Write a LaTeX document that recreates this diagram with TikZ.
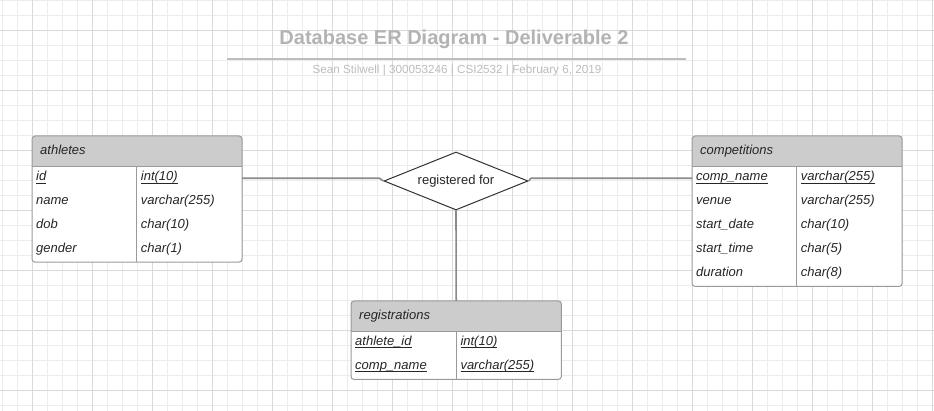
\documentclass[tikz,border=0pt]{standalone}
\usepackage{fontspec}
\setmainfont{Liberation Sans}
\usetikzlibrary{shapes.geometric,positioning,calc}

\definecolor{gridminor}{HTML}{ECECEC}
\definecolor{gridmajor}{HTML}{DADADA}
\definecolor{headfill}{HTML}{CCCCCC}
\definecolor{tblgray}{HTML}{9A9A9A}
\definecolor{titlegray}{HTML}{B3B3B3}
\definecolor{subgray}{HTML}{BDBDBD}
\definecolor{conngray}{HTML}{8A8A8A}
\definecolor{txtdark}{HTML}{262626}

% underlined key with a fixed rule depth
\newcommand\ukey[1]{\setbox0\hbox{#1}\rlap{\rule[-2.4pt]{\wd0}{0.8pt}}\box0}

\begin{document}
\begin{tikzpicture}[
    x=1pt, y=-1pt,
    %–––– STYLES ––––
    minorgrid/.style = {draw=gridminor, line width=1pt},
    majorgrid/.style = {draw=gridmajor, line width=1pt},
    tbl/.style       = {fill=white, inner sep=0pt, anchor=north west},
    tblline/.style   = {draw=tblgray, line width=1pt},
    headtxt/.style   = {anchor=base west, inner sep=0pt, text=txtdark,
                        font=\itshape\fontsize{13}{15}\selectfont},
    fieldtxt/.style  = {headtxt},
    relation/.style  = {diamond, aspect=2.5, draw=black!80, line width=1pt,
                        fill=white, inner sep=0pt, text=txtdark,
                        minimum width=144pt, minimum height=58pt,
                        font=\fontsize{13}{15}\selectfont},
    conn/.style      = {draw=conngray, line width=1.6pt},
]
\useasboundingbox (0,0) rectangle (934,411);
\fill[white] (0,0) rectangle (934,411);

%–––– GRID ––––
\foreach \gx in {2.7,17.7,...,934} \draw[minorgrid] (\gx,0) -- (\gx,411);
\foreach \gy in {0.7,15.7,...,411} \draw[minorgrid] (0,\gy) -- (934,\gy);
\foreach \gx in {32.7,92.7,...,934} \draw[majorgrid] (\gx,0) -- (\gx,411);
\foreach \gy in {30.7,90.7,...,411} \draw[majorgrid] (0,\gy) -- (934,\gy);

%–––– TITLE ––––
\node (title) [anchor=base, inner sep=0pt, text=titlegray,
               font=\bfseries\fontsize{20}{24}\selectfont] at (454,45)
      {Database ER Diagram - Deliverable 2};
\draw[draw=subgray, line width=2pt] (227,59) -- (686,59);
\node (subtitle) [anchor=base, inner sep=0pt, text=subgray,
                  font=\fontsize{11.7}{14}\selectfont] at (457,74)
      {Sean Stilwell | 300053246 | CSI2532 | February 6, 2019};

%–––– TABLES ––––
\foreach \tb/\x/\y/\w/\h/\d in {athletes/32/136/209.7/125.7/104.7,
                                competitions/692/136/209.7/150/104.7,
                                registrations/351/301/210/78/105.3}{
  \node[tbl, minimum width=\w pt, minimum height=\h pt] (\tb) at (\x,\y) {};
  \begin{scope}
    \clip[rounded corners=3pt] (\tb.north west) rectangle (\tb.south east);
    \fill[headfill] (\tb.north west) rectangle ([yshift=-30.5pt]\tb.north east);
  \end{scope}
  \draw[tblline] ([yshift=-30.5pt]\tb.north west) -- ([yshift=-30.5pt]\tb.north east);
  \draw[tblline] ([xshift=\d pt, yshift=-30.5pt]\tb.north west) -- ([xshift=\d pt]\tb.south west);
  \draw[tblline, rounded corners=3pt] (\tb.north west) rectangle (\tb.south east);
  \node[headtxt] (\tb-title) at ([xshift=8pt, yshift=-18.3pt]\tb.north west) {\tb};
}

%–––– FIELDS ––––
\foreach \f/\t [count=\i from 0] in {\ukey{id}/\ukey{int(10)}, name/varchar(255),
                                     dob/char(10), gender/char(1)}{
  \node[fieldtxt] (athletes-f\i) at (36,{181+24*\i}) {\f};
  \node[fieldtxt] (athletes-t\i) at (140.7,{181+24*\i}) {\t};
}
\foreach \f/\t [count=\i from 0] in {\ukey{comp\_name}/\ukey{varchar(255)}, venue/varchar(255),
                                     start\_date/char(10), start\_time/char(5), duration/char(8)}{
  \node[fieldtxt] (competitions-f\i) at (696,{181+24*\i}) {\f};
  \node[fieldtxt] (competitions-t\i) at (800.7,{181+24*\i}) {\t};
}
\foreach \f/\t [count=\i from 0] in {\ukey{athlete\_id}/\ukey{int(10)},
                                     \ukey{comp\_name}/\ukey{varchar(255)}}{
  \node[fieldtxt] (registrations-f\i) at (355,{345.3+24.2*\i}) {\f};
  \node[fieldtxt] (registrations-t\i) at (460.3,{345.3+24.2*\i}) {\t};
}

%–––– RELATIONSHIP ––––
\node[relation] (rel) at (456,181) {registered for};

%–––– CONNECTORS ––––
\draw[conn] ([yshift=-42.3pt]athletes.north east) -- ([xshift=-4pt, yshift=2.7pt]rel.west) -- (rel.west);
\draw[conn] (rel.east) -- ([xshift=2.5pt, yshift=2.7pt]rel.east) -- ([yshift=-42.3pt]competitions.north west);
\draw[conn] (rel.south) -- (registrations.north);
\end{tikzpicture}
\end{document}
